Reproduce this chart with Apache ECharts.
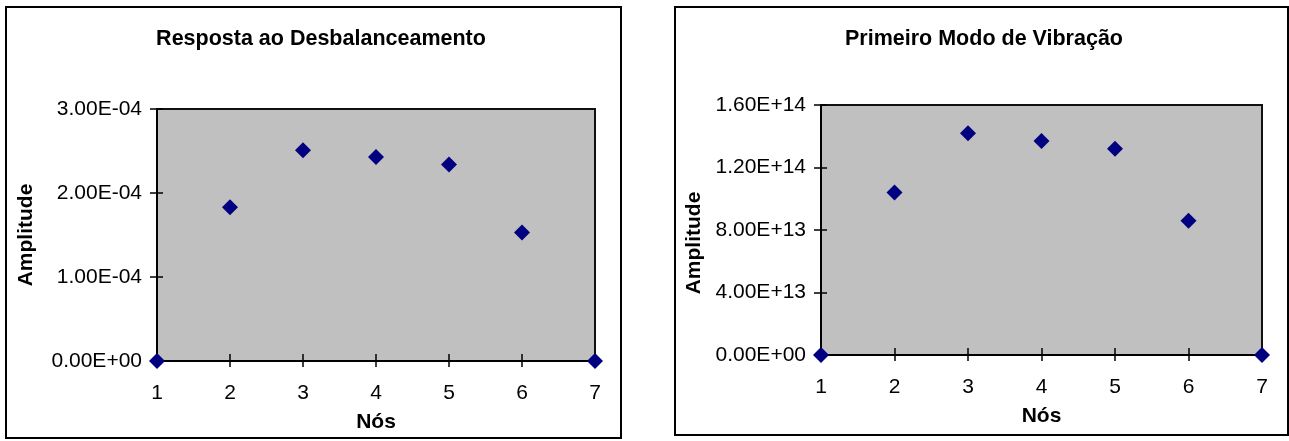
<!DOCTYPE html>
<html>
<head>
<meta charset="utf-8">
<script src="https://cdn.jsdelivr.net/npm/echarts@6/dist/echarts.min.js"></script>
<style>
html,body{margin:0;padding:0;background:#fff;}
#c{width:1289px;height:441px;}
</style>
</head>
<body>
<div id="c"></div>
<script>
// ---- data ----
var nodes = [1, 2, 3, 4, 5, 6, 7];
var responseValues = [0, 1.83e-4, 2.51e-4, 2.43e-4, 2.34e-4, 1.53e-4, 0];
var modeValues = [0, 1.04e14, 1.42e14, 1.37e14, 1.32e14, 0.86e14, 0];
var responseTicks = ['0.00E+00', '1.00E-04', '2.00E-04', '3.00E-04'];
var modeTicks = ['0.00E+00', '4.00E+13', '8.00E+13', '1.20E+14', '1.60E+14'];
var titles = ['Resposta ao Desbalanceamento', 'Primeiro Modo de Vibração'];
var xName = 'Nós';
var yName = 'Amplitude';

var FONT = '"Liberation Sans", Arial, sans-serif';
var pairs = function (vals) { return nodes.map(function (n, i) { return [n, vals[i]]; }); };

var grids = [
  {left: 157, top: 109, width: 438, height: 252},
  {left: 821, top: 105, width: 441, height: 250}
];

function xAxes(gi) {
  return [
    {gridIndex: gi, type: 'value', min: 1, max: 7, interval: 1, position: 'bottom',
     axisLine: {show: true, lineStyle: {color: '#000', width: 2}},
     axisTick: {show: true, inside: false, length: 6, lineStyle: {color: '#000', width: 1.5}},
     axisLabel: {color: '#000', fontSize: 21, fontFamily: FONT, margin: 22},
     splitLine: {show: false},
     name: xName, nameLocation: 'middle', nameGap: 51,
     nameTextStyle: {color: '#000', fontSize: 21, fontWeight: 'bold', fontFamily: FONT}},
    {gridIndex: gi, type: 'value', min: 1, max: 7, interval: 1, position: 'bottom',
     axisLine: {show: false}, axisLabel: {show: false}, splitLine: {show: false},
     axisTick: {show: true, inside: true, length: 7, lineStyle: {color: '#000', width: 1.5}}}
  ];
}
function yAxes(gi, max, interval, ticks, gap, namePad) {
  return [
    {gridIndex: gi, type: 'value', min: 0, max: max, interval: interval, position: 'left',
     axisLine: {show: true, lineStyle: {color: '#000', width: 2}},
     axisTick: {show: true, inside: false, length: 7, lineStyle: {color: '#000', width: 1.5}},
     axisLabel: {color: '#000', fontSize: 21, fontFamily: FONT, margin: 15,
       formatter: function (v) { return ticks[Math.round(v / interval)]; }},
     splitLine: {show: false},
     name: yName, nameLocation: 'middle', nameGap: gap,
     nameTextStyle: {color: '#000', fontSize: 21, fontWeight: 'bold', fontFamily: FONT, padding: namePad}},
    {gridIndex: gi, type: 'value', min: 0, max: max, interval: interval, position: 'left',
     axisLine: {show: false}, axisLabel: {show: false}, splitLine: {show: false},
     axisTick: {show: true, inside: true, length: 6, lineStyle: {color: '#000', width: 1.5}}}
  ];
}

var chart = echarts.init(document.getElementById('c'), null, {renderer: 'canvas'});
chart.setOption({
  backgroundColor: '#fff',
  animation: false,
  title: [
    {text: titles[0], left: 321, textAlign: 'center', top: 28, padding: 0,
     textStyle: {color: '#000', fontSize: 21.5, fontWeight: 'bold', fontFamily: FONT}},
    {text: titles[1], left: 984, textAlign: 'center', top: 28, padding: 0,
     textStyle: {color: '#000', fontSize: 21.5, fontWeight: 'bold', fontFamily: FONT}}
  ],
  grid: grids.map(function (g) {
    return Object.assign({show: true, backgroundColor: '#C0C0C0', borderColor: '#111', borderWidth: 2}, g);
  }),
  xAxis: xAxes(0).concat(xAxes(1)),
  yAxis: yAxes(0, 3e-4, 1e-4, responseTicks, 120, 0).concat(yAxes(1, 1.6e14, 4e13, modeTicks, 116, [0, 26, 0, 0])),
  series: [
    {type: 'scatter', xAxisIndex: 0, yAxisIndex: 0, data: pairs(responseValues),
     symbol: 'diamond', symbolSize: [16, 16], clip: false, z: 5,
     itemStyle: {color: '#000080', opacity: 1}},
    {type: 'scatter', xAxisIndex: 2, yAxisIndex: 2, data: pairs(modeValues),
     symbol: 'diamond', symbolSize: [16, 16], clip: false, z: 5,
     itemStyle: {color: '#000080', opacity: 1}}
  ],
  graphic: [
    {type: 'rect', shape: {x: 6, y: 7, width: 615, height: 431}, z: -10,
     style: {fill: null, stroke: '#000', lineWidth: 2}},
    {type: 'rect', shape: {x: 675, y: 7, width: 613, height: 428}, z: -10,
     style: {fill: null, stroke: '#000', lineWidth: 2}}
  ]
});
</script>
</body>
</html>
